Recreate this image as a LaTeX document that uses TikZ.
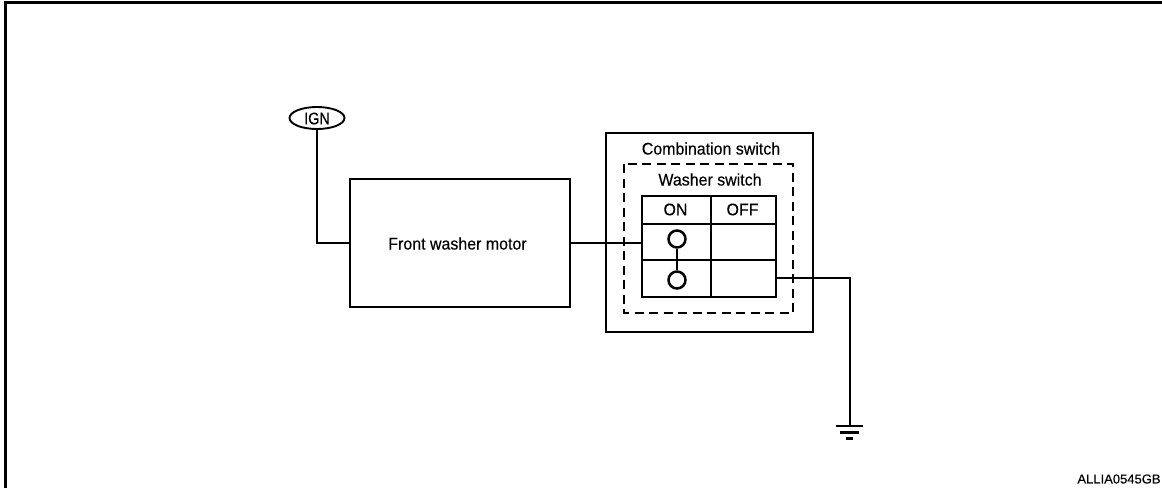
\documentclass[tikz,border=0pt]{standalone}
\usepackage{fontspec}
\setmainfont[FakeBold=0.25]{Liberation Sans}
\usetikzlibrary{calc,shapes.geometric}
\tikzset{
  x=1pt,y=-1pt,
  wire/.style={line width=2.5pt,line cap=butt,line join=miter},
  lbl/.style={inner sep=0pt,font=\fontsize{16.8}{18}\selectfont,xscale=0.95},
  contact/.style={circle,draw,fill=white,line width=2.5pt,minimum size=17pt,inner sep=0pt},
  dashbox/.style={draw,line width=2.5pt,dash pattern=on 9pt off 5.5pt}
}
\begin{document}
\begin{tikzpicture}
\useasboundingbox (0,0) rectangle (1162,488);
% frame
\draw[line width=3.2pt] (5.5,488) -- (5.5,2.5) -- (1162,2.5);
% nodes
\node[ellipse,draw,line width=1.9pt,minimum width=55pt,minimum height=22pt,inner sep=0pt] (ign) at (317,118) {};
\node[lbl,xscale=0.9] (ignlabel) at (317,118.5) {IGN};
\node[draw,line width=2.5pt,minimum width=220pt,minimum height=128pt,inner sep=0pt] (motor) at (460,243) {};
\node[lbl] (motorlabel) at (457.5,243.5) {Front washer motor};
\node[draw,line width=2.5pt,minimum width=207pt,minimum height=199pt,inner sep=0pt] (comb) at (709.5,232.5) {};
\node[lbl] (comblabel) at (711,148.5) {Combination switch};
\draw[dashbox] (624,164) rectangle (793,313);
\node[lbl] (washlabel) at (710,179.5) {Washer switch};
\node[draw,line width=2.5pt,minimum width=134pt,minimum height=101pt,inner sep=0pt] (tbl) at (709,246.5) {};
\draw[wire] (tbl.west |- 0,224) -- (tbl.east |- 0,224);
\draw[wire] (tbl.west |- 0,260) -- (tbl.east |- 0,260);
\draw[wire] (711,196) -- (711,297);
\node[lbl] (on) at (675.5,209.5) {ON};
\node[lbl] (off) at (742.5,209.5) {OFF};
\node[contact] (c1) at (677,239) {};
\node[contact] (c2) at (677,280) {};
\draw[wire] (c1) -- (c2);
% wiring
\coordinate (corner1) at (317,243);
\coordinate (tblin) at (642,243);
\coordinate (tblout) at (776,278);
\coordinate (corner2) at (850,278);
\coordinate (gnd) at (850,426);
\draw[wire] (ign) -- (corner1) -- (corner1 -| motor.west);
\draw[wire] (motor.east |- tblin) -- (tblin);
\draw[wire] (tblout) -- (corner2) -- (gnd);
% ground
\draw[wire] (836,426) -- (863,426);
\draw[wire] (840,432.5) -- (859,432.5);
\draw[line width=3pt] (846,438.5) -- (853,438.5);
\node[inner sep=0pt,font=\fontsize{13}{15}\selectfont] (code) at (1119,479) {ALLIA0545GB};
\end{tikzpicture}
\end{document}
